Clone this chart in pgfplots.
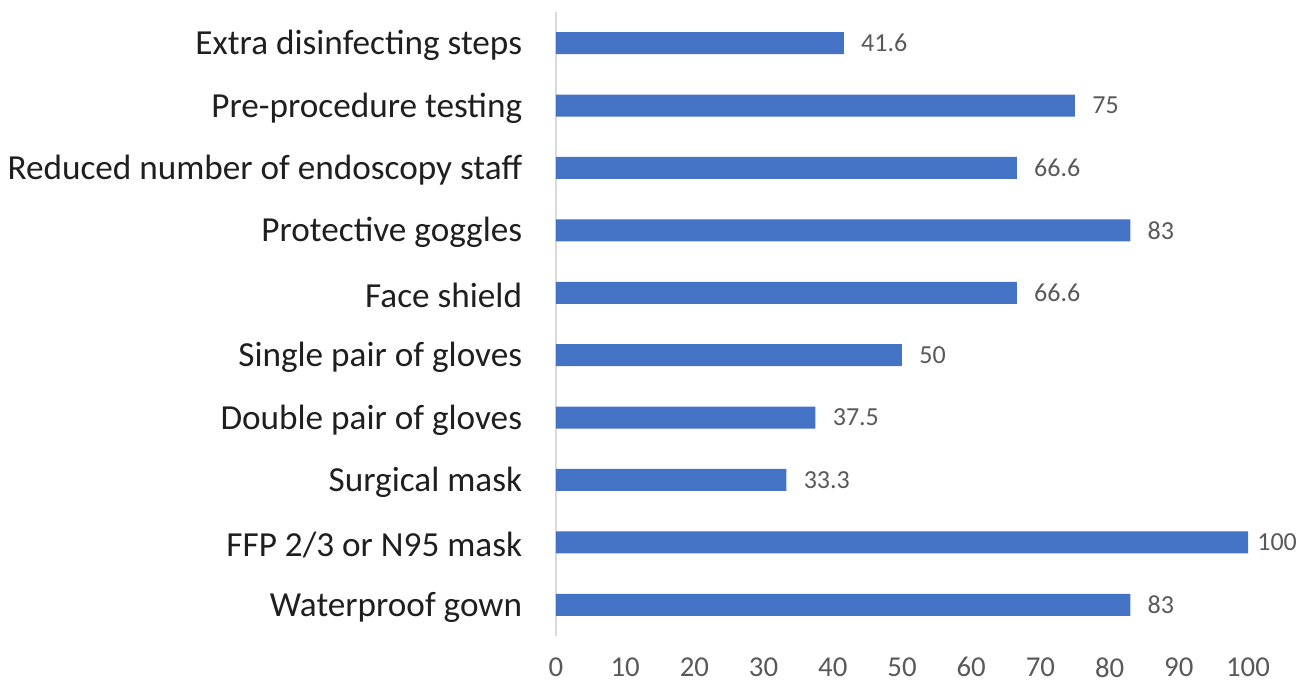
\documentclass[border=0pt]{standalone}
\usepackage{pgfplots}
\pgfplotsset{compat=1.18}
\usepackage{fontspec}
\setmainfont{Carlito}
\definecolor{barblue}{HTML}{4472C4}
\definecolor{labgray}{HTML}{595959}
\definecolor{axgray}{HTML}{D9D9D9}
\begin{document}
\begin{tikzpicture}
\useasboundingbox (-278bp,-23bp) rectangle (371bp,318bp);
\begin{axis}[
  at={(0,0)}, anchor=south west,
  scale only axis,
  width=346bp, height=312bp,
  xmin=0, xmax=100, ymin=-0.5, ymax=9.5,
  xbar, bar width=11bp,
  separate axis lines,
  axis lines*=left,
  x axis line style={draw=none},
  y axis line style={draw=axgray, line width=0.8bp},
  tick style={draw=none},
  xtick={0,10,...,100},
  ytick={0,...,9},
  yticklabels={Waterproof gown, FFP 2/3 or N95 mask, Surgical mask, Double pair of gloves, Single pair of gloves, Face shield, Protective goggles, Reduced number of endoscopy staff, Pre-procedure testing, Extra disinfecting steps},
  /pgf/number format/assume math mode=true,
  xticklabel style={font=\fontsize{14.4bp}{16bp}\selectfont, text=labgray, inner sep=0pt, anchor=north, yshift=-10.5bp},
  yticklabel style={font=\fontsize{17.6bp}{19bp}\selectfont, text=black!88, inner sep=0pt, anchor=east, xshift=-12.5bp, yshift=-1.2bp},
  visualization depends on=x \as \xv,
  nodes near coords,
  nodes near coords style={font=\fontsize{13bp}{14bp}\selectfont, text=labgray, anchor=west, inner sep=0pt, xshift={(\xv>95) ? 4.5 : 8.5}},
  point meta=explicit symbolic,
  clip=false,
]
\addplot[fill=barblue, draw=none] coordinates {
  (83,0) [83]
  (100,1) [100]
  (33.3,2) [33.3]
  (37.5,3) [37.5]
  (50,4) [50]
  (66.6,5) [66.6]
  (83,6) [83]
  (66.6,7) [66.6]
  (75,8) [75]
  (41.6,9) [41.6]
};
\end{axis}
\end{tikzpicture}
\end{document}
